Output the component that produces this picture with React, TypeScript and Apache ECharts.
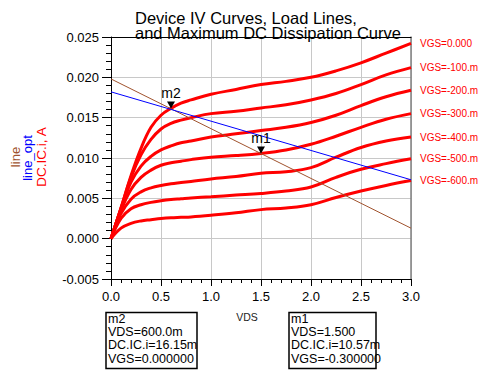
import React, { useEffect, useRef } from "react";
import * as echarts from "echarts";

// VDS sample points (V)
const vds = [0, 0.1, 0.2, 0.3, 0.4, 0.5, 0.6, 0.7, 0.8, 1.0, 1.25, 1.5, 1.75, 2.0, 2.25, 2.5, 2.75, 3.0];

// DC.IC.i in mA for each VGS step
const vgsNames = ["VGS=0.000", "VGS=-100.m", "VGS=-200.m", "VGS=-300.m", "VGS=-400.m", "VGS=-500.m", "VGS=-600.m"];
const icVgs0 = [0, 3.8, 7.8, 11.2, 13.8, 15.3, 16.15, 16.8, 17.2, 17.9, 18.5, 19.1, 19.5, 20.0, 20.8, 21.8, 23.0, 24.2];
const icVgsM100 = [0, 3.8, 7.6, 10.4, 12.3, 13.6, 14.3, 14.7, 15.0, 15.5, 15.8, 16.2, 16.6, 17.2, 18.0, 19.1, 20.3, 21.2];
const icVgsM200 = [0, 3.7, 7.0, 9.0, 10.2, 11.0, 11.5, 11.9, 12.1, 12.6, 13.0, 13.4, 13.8, 14.4, 15.3, 16.5, 17.6, 18.4];
const icVgsM300 = [0, 3.5, 6.1, 7.6, 8.5, 9.1, 9.4, 9.6, 9.8, 10.1, 10.3, 10.57, 11.0, 11.7, 12.7, 13.8, 14.8, 15.5];
const icVgsM400 = [0, 3.1, 4.9, 5.8, 6.3, 6.6, 6.8, 6.95, 7.1, 7.4, 7.7, 8.1, 8.3, 8.8, 10.1, 11.3, 12.1, 12.6];
const icVgsM500 = [0, 2.5, 3.7, 4.2, 4.5, 4.7, 4.85, 4.95, 5.05, 5.2, 5.4, 5.6, 5.9, 6.4, 7.6, 8.6, 9.3, 9.9];
const icVgsM600 = [0, 1.3, 1.9, 2.2, 2.35, 2.5, 2.6, 2.65, 2.7, 2.9, 3.2, 3.6, 3.8, 4.2, 5.1, 5.9, 6.6, 7.2];

// Load lines (mA)
const lineV = [0, 3.0];
const lineI = [19.8, 1.3];
const lineOptV = [0, 3.0];
const lineOptI = [18.2, 7.3];

// Markers
const m2 = { name: "m2", vds: 0.6, ic: 16.15, vgs: "0.000000", vdsText: "600.0m", icText: "16.15m" };
const m1 = { name: "m1", vds: 1.5, ic: 10.57, vgs: "-0.300000", vdsText: "1.500", icText: "10.57m" };

const xTicks = { min: 0, max: 3, interval: 0.5 };
const yTicks = { min: -0.005, max: 0.025, interval: 0.005 };

const FONT = "'Liberation Sans', Arial, Helvetica, sans-serif";

const curves = [icVgs0, icVgsM100, icVgsM200, icVgsM300, icVgsM400, icVgsM500, icVgsM600];

function toPairs(xs: number[], ys: number[]) {
  return xs.map((x, i) => [x, ys[i] / 1000]);
}

function markerPoint(m: typeof m1) {
  return {
    coord: [m.vds, m.ic / 1000],
    symbol: "triangle",
    symbolSize: [8, 7],
    symbolRotate: 180,
    symbolOffset: [0, -3.5],
    itemStyle: { color: "#000" },
    label: {
      show: true,
      position: "top",
      distance: 1,
      formatter: m.name,
      color: "#000",
      fontSize: 14,
      fontFamily: FONT,
    },
  };
}

export default function App() {
  const ref = useRef<HTMLDivElement>(null);
  useEffect(() => {
    if (!ref.current) return;
    const chart = echarts.init(ref.current, undefined, { renderer: "svg" });

    const redSeries = curves.map((c, idx) => {
      const s: any = {
        type: "line",
        name: vgsNames[idx],
        data: toPairs(vds, c),
        showSymbol: false,
        symbol: "none",
        smooth: 0.4,
        lineStyle: { color: "#ff0000", width: 3 },
        itemStyle: { color: "#ff0000" },
        endLabel: {
          show: true,
          formatter: vgsNames[idx],
          color: "#ff0000",
          fontSize: 10,
          fontFamily: FONT,
          distance: 9,
        },
        z: 2,
      };
      if (idx === 0) {
        s.markPoint = { data: [markerPoint(m2)], z: 10 };
      }
      if (idx === 3) {
        s.markPoint = { data: [markerPoint(m1)], z: 10 };
      }
      return s;
    });

    const boxText = (m: typeof m1, x: number) => {
      const lines = [m.name, "VDS=" + m.vdsText, "DC.IC.i=" + m.icText, "VGS=" + m.vgs];
      const ys = [318.5, 332, 345.3, 358.7];
      return lines.map((t, i) => ({
        type: "text",
        x,
        y: ys[i],
        style: { text: t, fill: "#000", font: `12.5px ${FONT}`, align: "left", verticalAlign: "middle" },
        z: 100,
      }));
    };

    chart.setOption({
      animation: false,
      grid: { left: 111, top: 37, width: 300, height: 242, containLabel: false },
      xAxis: [
        {
          type: "value",
          min: xTicks.min,
          max: xTicks.max,
          interval: xTicks.interval,
          axisLine: { show: true, onZero: false, lineStyle: { color: "#000", width: 1 } },
          axisTick: { show: true, inside: false, length: 7, lineStyle: { color: "#000" } },
          minorTick: { show: true, splitNumber: 5, length: 4, lineStyle: { color: "#000" } },
          splitLine: { show: true, lineStyle: { color: "#c8c8c8", width: 1 } },
          axisLabel: {
            formatter: (v: number) => v.toFixed(1),
            color: "#000",
            fontSize: 13,
            fontFamily: FONT,
            margin: 11,
          },
        },
        {
          type: "value",
          position: "top",
          min: xTicks.min,
          max: xTicks.max,
          axisLine: { show: true, onZero: false, lineStyle: { color: "#000", width: 1 } },
          axisTick: { show: false },
          axisLabel: { show: false },
          splitLine: { show: false },
        },
      ],
      yAxis: [
        {
          type: "value",
          min: yTicks.min,
          max: yTicks.max,
          interval: yTicks.interval,
          axisLine: { show: true, onZero: false, lineStyle: { color: "#000", width: 1 } },
          axisTick: { show: true, inside: false, length: 9, lineStyle: { color: "#000" } },
          minorTick: { show: true, splitNumber: 5, length: 5, lineStyle: { color: "#000" } },
          splitLine: { show: true, lineStyle: { color: "#c8c8c8", width: 1 } },
          axisLabel: {
            formatter: (v: number) => v.toFixed(3),
            color: "#000",
            fontSize: 13,
            fontFamily: FONT,
            margin: 12,
          },
        },
        {
          type: "value",
          position: "right",
          min: yTicks.min,
          max: yTicks.max,
          axisLine: { show: true, onZero: false, lineStyle: { color: "#808080", width: 1.5 } },
          axisTick: { show: false },
          axisLabel: { show: false },
          splitLine: { show: false },
        },
      ],
      series: [
        ...redSeries,
        {
          type: "line",
          name: "line",
          data: toPairs(lineV, lineI),
          showSymbol: false,
          symbol: "none",
          lineStyle: { color: "#a0522d", width: 1 },
          z: 3,
        },
        {
          type: "line",
          name: "line_opt",
          data: toPairs(lineOptV, lineOptI),
          showSymbol: false,
          symbol: "none",
          lineStyle: { color: "#0000ff", width: 1 },
          z: 3,
        },
      ],
      graphic: [
        {
          type: "text",
          x: 135,
          y: 17.5,
          style: { text: "Device IV Curves, Load Lines,", fill: "#000", font: `16.5px ${FONT}`, align: "left", verticalAlign: "middle" },
          z: 100,
        },
        {
          type: "text",
          x: 135,
          y: 33.1,
          style: { text: "and Maximum DC Dissipation Curve", fill: "#000", font: `16.5px ${FONT}`, align: "left", verticalAlign: "middle" },
          z: 100,
        },
        {
          type: "text",
          x: 15,
          y: 157,
          rotation: Math.PI / 2,
          style: { text: "line", fill: "#a0522d", font: `13px ${FONT}`, align: "center", verticalAlign: "middle" },
        },
        {
          type: "text",
          x: 27.5,
          y: 158,
          rotation: Math.PI / 2,
          style: { text: "line_opt", fill: "#0000ff", font: `13px ${FONT}`, align: "center", verticalAlign: "middle" },
        },
        {
          type: "text",
          x: 41.5,
          y: 157,
          rotation: Math.PI / 2,
          style: { text: "DC.IC.i, A", fill: "#ff0000", font: `13.5px ${FONT}`, align: "center", verticalAlign: "middle" },
        },
        {
          type: "text",
          x: 247,
          y: 317,
          style: { text: "VDS", fill: "#222", font: `10.5px ${FONT}`, align: "center", verticalAlign: "middle" },
        },
        {
          type: "rect",
          shape: { x: 106, y: 312.5, width: 91, height: 56 },
          style: { fill: "#fff", stroke: "#000", lineWidth: 1.5 },
          z: 99,
        },
        ...boxText(m2, 108),
        {
          type: "rect",
          shape: { x: 289, y: 312.5, width: 87, height: 56 },
          style: { fill: "#fff", stroke: "#000", lineWidth: 1.5 },
          z: 99,
        },
        ...boxText(m1, 291),
      ],
    });
    return () => chart.dispose();
  }, []);
  return (
    <div
      ref={ref}
      style={{ position: "absolute", left: 0, top: 0, width: 481, height: 379, background: "#fff" }}
    />
  );
}
